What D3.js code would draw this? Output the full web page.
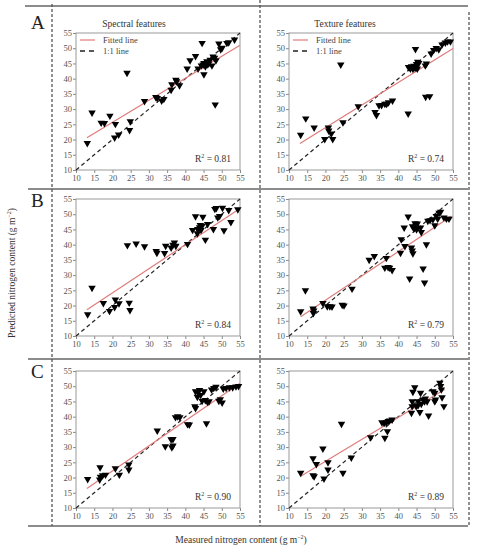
<!DOCTYPE html>
<html>
<head>
<meta charset="utf-8">
<script src="https://cdn.jsdelivr.net/npm/d3@7"></script>
<style>
  body { margin: 0; background: #fff; }
  text { font-family: "Liberation Serif", "Times New Roman", serif; }
</style>
</head>
<body>
<div id="chart"></div>
<script>
var tickValues = [10, 15, 20, 25, 30, 35, 40, 45, 50, 55];
var columnTitles = ["Spectral features", "Texture features"];
var rowLetters = ["A", "B", "C"];
var r2Values = ["0.81", "0.74", "0.84", "0.79", "0.90", "0.89"];
var legendLabels = ["Fitted line", "1:1 line"];

// measured vs predicted
var specAMeas = [13.1, 14.4, 16.9, 17.8, 19.3, 20.8, 20.6, 21.7, 24.0, 24.7, 24.9, 28.8, 31.9, 32.3, 33.5, 34.1, 36.1, 36.3, 37.4, 37.6, 38.4, 40.5, 41.3, 42.8, 43.5, 44.6, 44.4, 45.1, 45.1, 45.9, 46.4, 46.8, 47.3, 48.0, 48.4, 48.2, 49.2, 49.7, 50.1, 51.4, 51.9, 53.5, 46.0, 44.9, 45.5, 47.6];
var specAPred = [18.8, 28.8, 25.5, 25.4, 27.8, 25.1, 20.6, 21.6, 41.9, 23.1, 26.0, 32.6, 33.9, 33.6, 32.8, 33.3, 36.3, 38.1, 39.6, 39.1, 37.8, 43.3, 46.0, 47.4, 43.3, 51.7, 44.3, 41.4, 45.1, 45.7, 44.9, 46.2, 44.3, 46.8, 46.0, 31.5, 51.5, 49.6, 50.1, 51.7, 51.9, 52.8, 44.7, 44.6, 44.0, 47.2];

var textAMeas = [13.2, 14.6, 16.9, 19.8, 20.8, 20.9, 21.6, 22.0, 24.2, 24.8, 29.0, 33.6, 34.0, 34.7, 35.4, 36.3, 36.8, 37.3, 38.4, 42.7, 42.8, 43.3, 43.6, 44.0, 44.3, 44.6, 44.7, 45.0, 45.3, 45.6, 45.2, 47.4, 47.7, 47.5, 48.6, 49.0, 49.7, 50.4, 51.1, 52.0, 52.9, 53.5, 54.3];
var textAPred = [21.5, 26.9, 23.9, 20.1, 23.9, 22.9, 21.9, 20.1, 44.6, 25.6, 30.9, 29.0, 28.0, 31.2, 31.3, 31.7, 31.7, 32.2, 32.8, 28.5, 43.8, 43.3, 44.0, 43.2, 44.2, 43.5, 49.7, 44.8, 45.5, 45.1, 43.3, 44.3, 44.9, 34.0, 34.2, 48.2, 49.4, 50.0, 49.6, 51.2, 51.8, 52.2, 52.2];

var specBMeas = [13.2, 14.4, 17.5, 19.2, 20.6, 20.8, 21.8, 24.6, 24.8, 24.1, 26.5, 28.8, 32.0, 32.2, 34.3, 34.6, 36.1, 36.6, 37.0, 37.4, 40.6, 42.0, 42.8, 43.3, 43.4, 43.9, 44.1, 44.6, 44.3, 44.8, 45.5, 46.1, 47.7, 48.1, 48.5, 48.9, 49.4, 50.2, 50.6, 51.9, 52.5, 54.4];
var specBPred = [17.1, 25.8, 20.8, 18.2, 19.5, 21.9, 20.7, 20.9, 18.5, 39.8, 40.3, 39.4, 37.9, 37.3, 37.2, 39.6, 39.0, 39.9, 40.7, 39.6, 40.2, 44.8, 49.3, 43.7, 45.1, 45.7, 46.4, 46.2, 44.8, 49.1, 41.6, 46.7, 45.1, 51.7, 52.0, 48.9, 49.4, 52.1, 44.7, 51.3, 47.4, 51.6];

var textBMeas = [13.2, 14.5, 16.6, 16.8, 16.7, 19.3, 20.5, 21.2, 21.8, 24.6, 25.1, 27.3, 32.0, 33.4, 36.3, 36.7, 37.2, 37.6, 38.3, 40.6, 40.8, 41.6, 41.8, 42.7, 43.1, 43.6, 43.8, 44.0, 43.9, 44.3, 44.6, 44.8, 45.2, 45.0, 46.1, 46.3, 46.8, 47.2, 47.7, 48.1, 48.7, 49.5, 50.0, 50.4, 50.8, 51.2, 51.6, 52.5, 53.2, 53.9];
var textBPred = [18.1, 25.0, 19.0, 18.3, 17.5, 20.8, 19.7, 19.7, 19.6, 20.2, 20.0, 25.5, 35.0, 36.2, 32.4, 35.6, 32.6, 32.4, 31.6, 37.3, 41.7, 45.6, 39.5, 49.2, 28.8, 39.0, 38.0, 37.1, 46.0, 45.3, 47.0, 46.2, 46.9, 45.0, 45.6, 44.1, 32.1, 27.5, 40.1, 47.8, 48.0, 48.3, 46.3, 49.4, 48.5, 50.4, 50.8, 48.9, 48.5, 48.5];

var specCMeas = [13.2, 16.6, 16.5, 16.7, 17.3, 18.1, 20.8, 21.9, 24.5, 24.5, 32.3, 34.5, 36.1, 36.6, 36.3, 36.6, 37.3, 37.9, 38.5, 40.6, 41.1, 42.6, 42.8, 42.8, 43.4, 43.9, 43.3, 44.2, 44.6, 45.1, 45.5, 45.8, 46.1, 46.5, 47.2, 47.8, 48.4, 49.2, 49.6, 50.1, 50.4, 51.2, 52.1, 53.0, 53.9, 54.6];
var specCPred = [19.5, 23.3, 19.3, 20.2, 20.7, 20.9, 23.0, 20.9, 24.2, 22.6, 35.4, 30.2, 32.5, 32.6, 29.9, 30.5, 39.8, 40.1, 39.8, 37.5, 37.4, 43.4, 42.8, 48.3, 48.1, 48.7, 46.5, 47.1, 45.2, 48.3, 45.4, 37.8, 44.8, 45.0, 48.9, 49.4, 49.8, 45.2, 45.7, 44.6, 49.2, 49.4, 49.6, 49.6, 49.9, 50.0];

var textCMeas = [13.2, 16.6, 16.9, 16.6, 17.5, 19.3, 19.6, 20.7, 20.7, 24.8, 24.4, 27.1, 32.4, 35.5, 36.1, 36.7, 37.2, 37.6, 38.3, 36.3, 37.0, 43.6, 43.8, 44.0, 44.5, 43.8, 44.9, 45.4, 45.9, 46.1, 46.3, 46.8, 47.2, 47.4, 47.9, 48.3, 45.4, 49.5, 50.0, 50.2, 50.0, 51.4, 51.6, 51.8, 52.0, 52.5];
var textCPred = [21.5, 20.7, 20.4, 26.3, 24.4, 29.5, 19.6, 25.0, 22.6, 21.5, 37.6, 26.5, 33.2, 38.1, 37.9, 38.1, 38.5, 38.7, 39.0, 33.0, 35.2, 41.2, 45.0, 48.1, 49.6, 43.4, 43.4, 45.0, 41.5, 47.8, 44.2, 45.6, 45.0, 45.9, 45.0, 40.3, 43.7, 48.3, 47.8, 45.6, 45.0, 51.1, 50.0, 48.9, 46.3, 43.4];

// fitted line end points (measured, predicted) per panel A1, A2, B1, B2, C1, C2
var fitMeas = [[13, 55], [13, 55], [13, 55], [13.2, 54.6], [13, 55], [13.2, 52.7]];
var fitPred = [[20.6, 51.0], [18.7, 49.9], [18.6, 51.9], [16.3, 49.4], [16.4, 51.0], [20.4, 48.9]];

var W = 477, H = 550;
var colLeft = [76, 289], plotW = 164;
var rowTop = [33, 199, 371], plotH = 137;
var titleX = [134, 345];
var letterY = [29, 207, 378];

var panels = [
  {m: specAMeas, p: specAPred}, {m: textAMeas, p: textAPred},
  {m: specBMeas, p: specBPred}, {m: textBMeas, p: textBPred},
  {m: specCMeas, p: specCPred}, {m: textCMeas, p: textCPred}
];

var serif = "'Liberation Serif', 'Times New Roman', serif";

var svg = d3.select("#chart").append("svg")
    .attr("width", W)
    .attr("height", H)
    .style("font-family", serif);

// frame lines of the figure
var hLines = [[25, 6], [28, 189], [28, 359], [28, 526]];
hLines.forEach(function(l) {
  svg.append("line")
    .attr("x1", l[0]).attr("x2", 468)
    .attr("y1", l[1]).attr("y2", l[1])
    .attr("stroke", "#666").attr("stroke-width", 1.5);
});
[[52, 4], [260, 0], [469, 12]].forEach(function(v) {
  svg.append("line")
    .attr("x1", v[0]).attr("x2", v[0])
    .attr("y1", v[1]).attr("y2", 526)
    .attr("stroke", "#555").attr("stroke-width", 1.3)
    .attr("stroke-dasharray", "3,2");
});

panels.forEach(function(d, i) {
  var row = Math.floor(i / 2), col = i % 2;
  var g = svg.append("g")
    .attr("transform", "translate(" + colLeft[col] + "," + rowTop[row] + ")");

  var x = d3.scaleLinear().domain([10, 55]).range([0, plotW]);
  var y = d3.scaleLinear().domain([10, 55]).range([plotH, 0]);

  var xAxis = g.append("g")
    .attr("transform", "translate(0," + plotH + ")")
    .call(d3.axisBottom(x).tickValues(tickValues).tickSize(3).tickPadding(2));
  var yAxis = g.append("g")
    .call(d3.axisLeft(y).tickValues(tickValues).tickSize(3).tickPadding(1));
  [xAxis, yAxis].forEach(function(a) {
    a.attr("font-family", null).attr("font-size", null);
    a.select(".domain").remove();
    a.selectAll("line").attr("stroke", "#888");
    a.selectAll("text")
      .attr("fill", "#555")
      .style("font-family", serif)
      .style("font-size", "8.5px");
  });

  g.append("rect")
    .attr("width", plotW).attr("height", plotH)
    .attr("fill", "none").attr("stroke", "#999").attr("stroke-width", 1);

  // 1:1 line
  g.append("line")
    .attr("x1", x(10)).attr("y1", y(10))
    .attr("x2", x(55)).attr("y2", y(55))
    .attr("stroke", "#222").attr("stroke-width", 1.2)
    .attr("stroke-dasharray", "4,3");

  // fitted line
  g.append("line")
    .attr("x1", x(fitMeas[i][0])).attr("y1", y(fitPred[i][0]))
    .attr("x2", x(fitMeas[i][1])).attr("y2", y(fitPred[i][1]))
    .attr("stroke", "#e07b7b").attr("stroke-width", 1.2);

  var pts = d.m.map(function(v, k) { return [v, d.p[k]]; });
  g.selectAll(".pt")
    .data(pts)
    .enter().append("path")
      .attr("class", "pt")
      .attr("d", d3.symbol().type(d3.symbolTriangle).size(24))
      .attr("transform", function(p) { return "translate(" + x(p[0]) + "," + y(p[1]) + ") rotate(180)"; })
      .attr("fill", "#000");

  var r2 = g.append("text")
    .attr("x", plotW - 9).attr("y", plotH - 8)
    .attr("text-anchor", "end")
    .attr("fill", "#333")
    .style("font-size", "9.5px");
  r2.append("tspan").text("R");
  r2.append("tspan").attr("dy", -4).style("font-size", "6px").text("2");
  r2.append("tspan").attr("dy", 4).text(" = " + r2Values[i]);

  if (row === 0) {
    var lg = g.append("g");
    lg.append("line")
      .attr("x1", 4).attr("x2", 19).attr("y1", 7).attr("y2", 7)
      .attr("stroke", "#e07b7b").attr("stroke-width", 1.2);
    lg.append("line")
      .attr("x1", 4).attr("x2", 19).attr("y1", 18).attr("y2", 18)
      .attr("stroke", "#222").attr("stroke-width", 1.4)
      .attr("stroke-dasharray", "5,4");
    lg.selectAll("text")
      .data(legendLabels)
      .enter().append("text")
        .attr("x", 27)
        .attr("y", function(t, k) { return 10 + k * 11; })
        .attr("fill", "#444")
        .style("font-size", "8.5px")
        .text(function(t) { return t; });

    svg.append("text")
      .attr("x", titleX[col])
      .attr("y", 27)
      .attr("text-anchor", "middle")
      .attr("fill", "#333")
      .style("font-size", "9.5px")
      .text(columnTitles[col]);
  }

  if (col === 0) {
    svg.append("text")
      .attr("x", 31)
      .attr("y", letterY[row])
      .attr("fill", "#222")
      .style("font-size", "19px")
      .text(rowLetters[row]);
  }
});

// axis titles
var xt = svg.append("text")
  .attr("x", 241).attr("y", 543)
  .attr("text-anchor", "middle")
  .attr("fill", "#333")
  .style("font-size", "9.5px");
xt.append("tspan").text("Measured nitrogen content  (g m");
xt.append("tspan").attr("dy", -4).style("font-size", "6px").text("\u22122");
xt.append("tspan").attr("dy", 4).text(")");

var yt = svg.append("text")
  .attr("transform", "translate(15,273) rotate(-90)")
  .attr("text-anchor", "middle")
  .attr("fill", "#333")
  .style("font-size", "9.5px");
yt.append("tspan").text("Predicted nitrogen content  (g m");
yt.append("tspan").attr("dy", -4).style("font-size", "6px").text("\u22122");
yt.append("tspan").attr("dy", 4).text(")");
</script>
</body>
</html>
